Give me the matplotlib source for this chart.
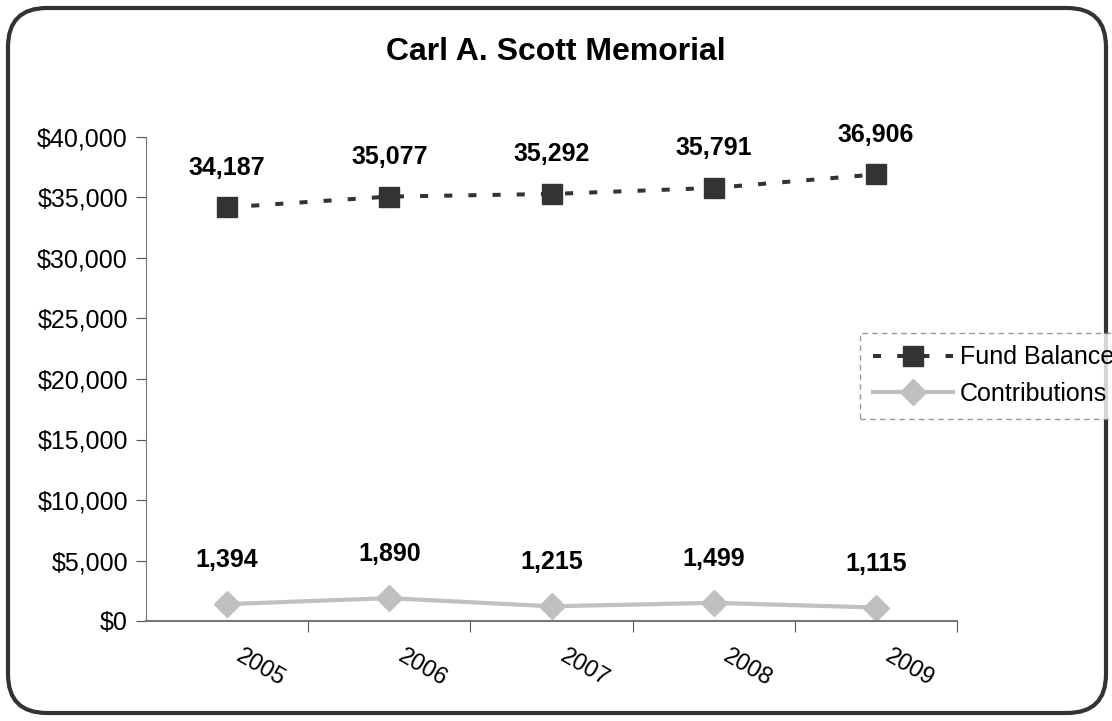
import matplotlib.pyplot as plt
from matplotlib.patches import FancyBboxPatch
from matplotlib.ticker import FuncFormatter

plt.rcParams['font.family'] = ['Liberation Sans', 'DejaVu Sans']

years = ['2005', '2006', '2007', '2008', '2009']
fund_balance = [34187, 35077, 35292, 35791, 36906]
contributions = [1394, 1890, 1215, 1499, 1115]

fig = plt.figure(figsize=(11.12, 7.21), dpi=100)
ax = fig.add_axes([146 / 1112, 1 - 621 / 721, (957 - 146) / 1112, (621 - 137) / 721])

# rounded outer frame
frame = FancyBboxPatch((8 / 1112, 8 / 721), 1098 / 1112, 705 / 721,
                       boxstyle="round,pad=0,rounding_size=0.035",
                       transform=fig.transFigure, fill=False,
                       edgecolor='#333333', linewidth=3, mutation_aspect=1112 / 721)
fig.patches.append(frame)

x = list(range(len(years)))
ax.plot(x, fund_balance, color='#333333', linestyle=(0, (2, 4)), linewidth=2.9,
        marker='s', markersize=14, label='Fund Balance')
ax.plot(x, contributions, color='#c0c0c0', linestyle='-', linewidth=3,
        marker='D', markersize=13, label='Contributions')

for i, v in enumerate(fund_balance):
    ax.annotate(f'{v:,}', (i, v), xytext=(0, 20), textcoords='offset points',
                ha='center', va='bottom', fontsize=18, fontweight='bold')
for i, v in enumerate(contributions):
    ax.annotate(f'{v:,}', (i, v), xytext=(0, 23), textcoords='offset points',
                ha='center', va='bottom', fontsize=18, fontweight='bold')

ax.set_xlim(-0.5, len(years) - 0.5)
ax.set_ylim(0, 40000)
ax.set_yticks(range(0, 40001, 5000))
ax.yaxis.set_major_formatter(FuncFormatter(lambda v, p: f'${int(v):,}'))
ax.tick_params(axis='y', labelsize=18, length=7, pad=6, direction='out', color='#555555')

# ticks at category boundaries, labels at category centres
ax.set_xticks([i + 0.5 for i in x])
ax.set_xticklabels([])
ax.tick_params(axis='x', length=8, direction='out', color='#555555')
for i, yr in enumerate(years):
    ax.text(i + 0.1, -0.05, yr, transform=ax.get_xaxis_transform(), rotation=-30,
            rotation_mode='anchor', ha='left', va='top', fontsize=17)

for s in ['top', 'right']:
    ax.spines[s].set_visible(False)
ax.spines['left'].set_color('#777777')
ax.spines['bottom'].set_color('#777777')
ax.spines['bottom'].set_linewidth(1.5)

fig.text(0.5, 1 - 52 / 721, 'Carl A. Scott Memorial', ha='center', va='center',
         fontsize=23, fontweight='bold')

leg = fig.legend(loc='upper left', bbox_to_anchor=(860 / 1112, 1 - 333 / 721),
                 fontsize=18, frameon=True, fancybox=False, handlelength=3.2,
                 handletextpad=0.3, borderaxespad=0, borderpad=0.5, labelspacing=0.5)
leg.get_frame().set_edgecolor('#808080')
leg.get_frame().set_linestyle((0, (4, 3)))
leg.get_frame().set_linewidth(1)

fig.savefig('out.png', dpi=100)
